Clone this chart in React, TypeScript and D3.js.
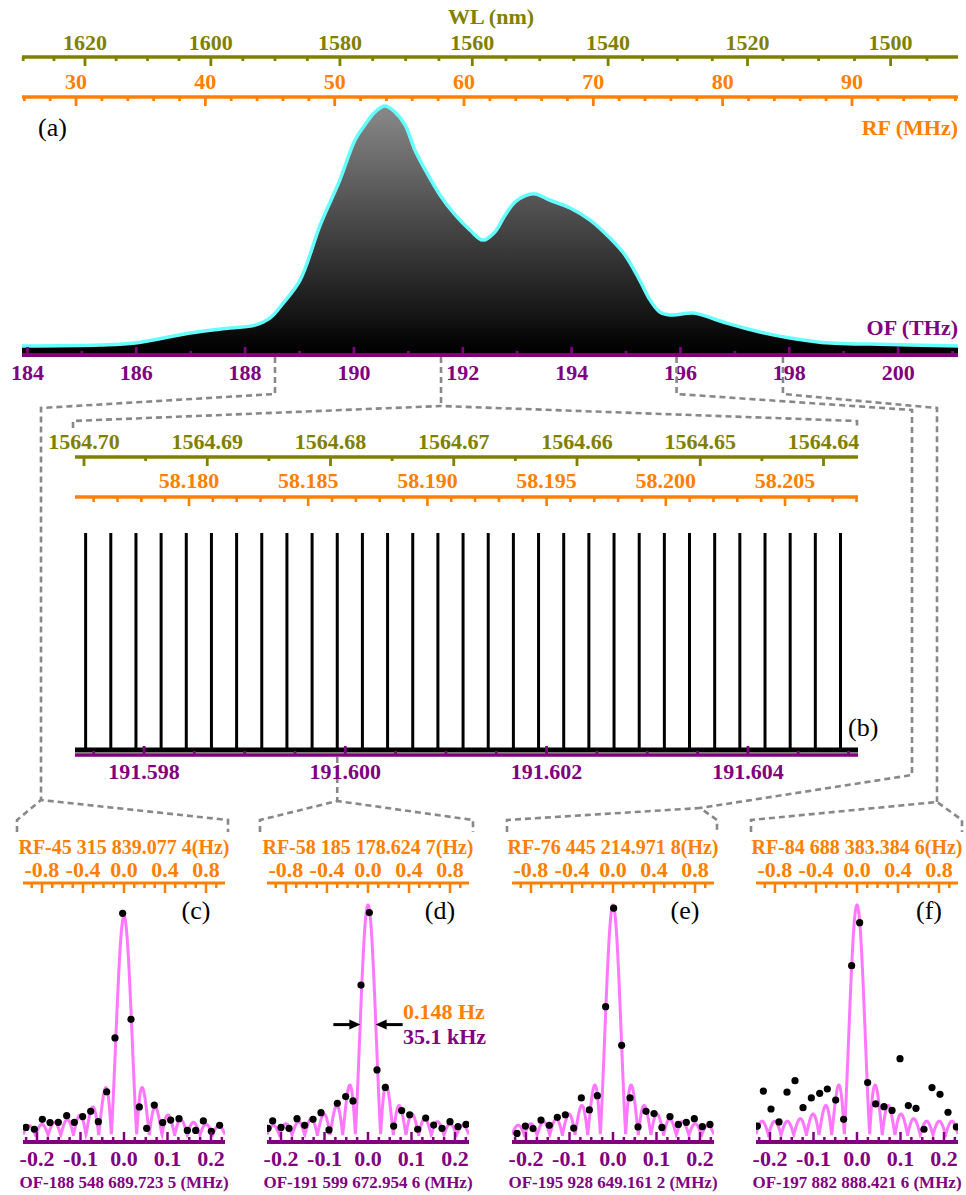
import React from 'react';
import * as d3 from 'd3';

const C_LIGHT = 299792.458;
const FONT = '"Liberation Serif","Times New Roman",serif';
const OLIVE = '#808000';
const ORANGE = '#ff8000';
const PURPLE = '#800080';
const PINK = '#ff77ff';
const CYAN = '#66ffff';
const GRAY = '#888888';

// ---------- Panel (a): broadband spectrum ----------
const spectrumOF = [183.90, 185.33, 185.98, 186.99, 187.72, 188.18, 188.46, 188.70, 189.01, 189.38, 189.74, 190.02, 190.20, 190.39, 190.57, 190.75, 190.94, 191.12, 191.31, 191.58, 191.86, 192.13, 192.37, 192.59, 192.78, 192.96, 193.14, 193.33, 193.60, 193.97, 194.34, 194.70, 194.98, 195.25, 195.44, 195.62, 195.81, 196.23, 196.45, 196.85, 197.46, 198.01, 198.75, 199.48, 201.10];
const spectrumLevel = [0.024, 0.028, 0.036, 0.077, 0.097, 0.109, 0.138, 0.198, 0.291, 0.514, 0.696, 0.858, 0.919, 0.972, 0.996, 0.972, 0.919, 0.818, 0.737, 0.636, 0.555, 0.494, 0.453, 0.486, 0.555, 0.607, 0.632, 0.640, 0.615, 0.583, 0.534, 0.462, 0.393, 0.291, 0.211, 0.162, 0.150, 0.158, 0.146, 0.117, 0.081, 0.057, 0.036, 0.032, 0.024];
const ofTicksA = [184, 186, 188, 190, 192, 194, 196, 198, 200];
const wlTicksA = [1620, 1600, 1580, 1560, 1540, 1520, 1500];
const rfTicksA = [30, 40, 50, 60, 70, 80, 90];

// ---------- Panel (b): resolved comb lines ----------
const combOF = [191.59742, 191.59767, 191.59792, 191.59817, 191.59842, 191.59867, 191.59892, 191.59917, 191.59942, 191.59967, 191.59992, 191.60017, 191.60042, 191.60067, 191.60092, 191.60117, 191.60142, 191.60167, 191.60192, 191.60217, 191.60242, 191.60267, 191.60292, 191.60317, 191.60342, 191.60367, 191.60392, 191.60417, 191.60442, 191.60467, 191.60492];
const wlTicksB = [1564.70, 1564.69, 1564.68, 1564.67, 1564.66, 1564.65, 1564.64];
const rfTicksB = [58.180, 58.185, 58.190, 58.195, 58.200, 58.205];
const ofTicksB = [191.598, 191.600, 191.602, 191.604];

// ---------- Panels (c)-(f): single comb lines ----------
const panelIds = ['(c)', '(d)', '(e)', '(f)'];
const panelRFTitle = ['RF-45 315 839.077 4(Hz)', 'RF-58 185 178.624 7(Hz)', 'RF-76 445 214.971 8(Hz)', 'RF-84 688 383.384 6(Hz)'];
const panelOFTitle = ['OF-188 548 689.723 5 (MHz)', 'OF-191 599 672.954 6 (MHz)', 'OF-195 928 649.161 2 (MHz)', 'OF-197 882 888.421 6 (MHz)'];
const panelOFTHz = [188.5487, 191.59992, 195.9286, 197.8829];
const rfTicksSmall = [-0.8, -0.4, 0.0, 0.4, 0.8];
const ofTicksSmall = [-0.2, -0.1, 0.0, 0.1, 0.2];

const cDetuning = [-0.2253, -0.2061, -0.1877, -0.1701, -0.1510, -0.1318, -0.1142, -0.0950, -0.0766, -0.0590, -0.0398, -0.0207, -0.0031, 0.0161, 0.0352, 0.0521, 0.0697, 0.0889, 0.1073, 0.1264, 0.1456, 0.1648, 0.1824, 0.2008, 0.2199];
const cLevel = [0.033, 0.025, 0.068, 0.054, 0.055, 0.084, 0.055, 0.080, 0.103, 0.058, 0.188, 0.422, 0.964, 0.503, 0.122, 0.029, 0.130, 0.054, 0.065, 0.071, 0.020, 0.020, 0.061, 0.016, 0.042];
const dDetuning = [-0.2299, -0.2192, -0.2000, -0.1816, -0.1632, -0.1456, -0.1264, -0.1080, -0.0897, -0.0705, -0.0513, -0.0345, -0.0161, 0.0031, 0.0207, 0.0398, 0.0590, 0.0774, 0.0958, 0.1142, 0.1326, 0.1510, 0.1701, 0.1885, 0.2069, 0.2253];
const dLevel = [0.029, 0.061, 0.033, 0.029, 0.071, 0.042, 0.068, 0.097, 0.022, 0.138, 0.167, 0.148, 0.652, 0.967, 0.283, 0.207, 0.039, 0.106, 0.088, 0.025, 0.074, 0.043, 0.029, 0.058, 0.036, 0.046];
const eDetuning = [-0.2207, -0.2015, -0.1839, -0.1655, -0.1464, -0.1280, -0.1096, -0.0904, -0.0728, -0.0544, -0.0360, -0.0169, 0.0015, 0.0199, 0.0391, 0.0575, 0.0759, 0.0943, 0.1125, 0.1310, 0.1502, 0.1686, 0.1870, 0.2054, 0.2230];
const eLevel = [0.007, 0.039, 0.028, 0.065, 0.042, 0.077, 0.088, 0.030, 0.161, 0.109, 0.171, 0.558, 0.986, 0.390, 0.161, 0.035, 0.103, 0.093, 0.033, 0.080, 0.046, 0.055, 0.071, 0.036, 0.046];
const fDetuning = [-0.2290, -0.2153, -0.1977, -0.1793, -0.1609, -0.1425, -0.1241, -0.1050, -0.0858, -0.0682, -0.0490, -0.0307, -0.0123, 0.0061, 0.0245, 0.0429, 0.0621, 0.0805, 0.0989, 0.1180, 0.1356, 0.1540, 0.1724, 0.1908, 0.2092, 0.2284];
const fLevel = [0.039, 0.191, 0.113, 0.057, 0.186, 0.236, 0.119, 0.161, 0.181, 0.200, 0.152, 0.068, 0.736, 0.923, 0.228, 0.135, 0.123, 0.107, 0.332, 0.128, 0.116, 0.025, 0.206, 0.177, 0.099, 0.035];
const panelDetuning = [cDetuning, dDetuning, eDetuning, fDetuning];
const panelLevel = [cLevel, dLevel, eLevel, fLevel];

// sinc fit parameters per panel
const fitPeak = [0.95, 1.0, 1.0, 1.0];
const fitZeroMHz = [0.0291, 0.0291, 0.0291, 0.0291];
const fitFloor = [0, 0, 0, 0.06];
const fwhmKHz = 35.1;

const panelCX = [124, 368, 613, 857];
const HALF = 101;

const xOF_A = d3.scaleLinear().domain([183.9, 201.1]).range([22, 958]);
const xRF_A = d3.scaleLinear().domain([25.82, 98.2]).range([22, 958]);
const yA = d3.scaleLinear().domain([0, 1]).range([352, 105]);

const xOF_B = d3.scaleLinear().domain([191.5973144, 191.6050939]).range([75, 858]);
const xRF_B = d3.scaleLinear().domain([58.175218, 58.208062]).range([75, 858]);
const yB = d3.scaleLinear().domain([0, 1]).range([750, 533]);

const ySmall = d3.scaleLinear().domain([0, 1]).range([1135, 905]);

function sincModel(f: number, i: number) {
  const u = f / fitZeroMHz[i];
  const s = Math.abs(u) < 1e-9 ? 1 : Math.abs(Math.sin(Math.PI * u) / (Math.PI * u));
  const fl = fitFloor[i] * Math.abs(Math.sin(Math.PI * u));
  return fitPeak[i] * Math.max(s, fl);
}

const bold = { fontFamily: FONT, fontWeight: 700 } as const;

function Panel({ i }: { i: number }) {
  const cx = panelCX[i];
  const xOF = d3.scaleLinear().domain([-0.2322, 0.2322]).range([cx - HALF, cx + HALF]);
  const xRF = d3.scaleLinear().domain([-0.985, 0.985]).range([cx - HALF, cx + HALF]);
  const samples = d3.range(-0.2322, 0.2323, 0.0004);
  const line = d3.line<number>().x((f) => xOF(f)).y((f) => ySmall(sincModel(f, i)));
  const rfMinor = d3.range(-0.9, 0.95, 0.1);
  const ofMinor = d3.range(-0.225, 0.23, 0.025);
  const clipId = `clip${i}`;
  const det = panelDetuning[i];
  const lev = panelLevel[i];
  return (
    <g>
      <clipPath id={clipId}>
        <rect x={cx - HALF} y={895} width={2 * HALF} height={245} />
      </clipPath>
      <text x={cx} y={854} textAnchor="middle" fill={ORANGE} fontSize={20} {...bold}>{panelRFTitle[i]}</text>
      {rfTicksSmall.map((t) => (
        <text key={t} x={xRF(t)} y={877} textAnchor="middle" fill={ORANGE} fontSize={22} {...bold}>{t.toFixed(1)}</text>
      ))}
      <line x1={cx - HALF} x2={cx + HALF} y1={883} y2={883} stroke={ORANGE} strokeWidth={3} />
      {rfMinor.map((t) => {
        const major = Math.abs(Math.round(t * 10) % 4) === 0;
        return <line key={t} x1={xRF(t)} x2={xRF(t)} y1={883} y2={major ? 893 : 888} stroke={ORANGE} strokeWidth={2.5} />;
      })}
      <text x={cx + 72} y={919} textAnchor="middle" fill="#000" fontSize={26} fontFamily={FONT}>{panelIds[i]}</text>
      <path d={line(samples) || ''} fill="none" stroke={PINK} strokeWidth={3} clipPath={`url(#${clipId})`} />
      <g clipPath={`url(#${clipId})`}>
        {det.map((f, k) => (
          <circle key={k} cx={xOF(f)} cy={ySmall(lev[k])} r={3.6} fill="#000" />
        ))}
      </g>
      <line x1={cx - HALF} x2={cx + HALF} y1={1142} y2={1142} stroke={PURPLE} strokeWidth={4} />
      {ofMinor.map((t) => {
        const major = Math.abs(Math.round(t * 1000) % 100) === 0;
        return <line key={t} x1={xOF(t)} x2={xOF(t)} y1={1142} y2={major ? 1132 : 1137} stroke={PURPLE} strokeWidth={2.5} />;
      })}
      {ofTicksSmall.map((t) => (
        <text key={t} x={xOF(t)} y={1166} textAnchor="middle" fill={PURPLE} fontSize={22} {...bold}>{t.toFixed(1)}</text>
      ))}
      <text x={cx} y={1188} textAnchor="middle" fill={PURPLE} fontSize={17} {...bold}>{panelOFTitle[i]}</text>
      {i === 1 && (() => {
        const half = fwhmKHz / 2000;
        const yArr = ySmall(0.48);
        const xl = xOF(-half);
        const xr = xOF(half);
        return (
          <g>
            <line x1={xl - 27} x2={xl - 9} y1={yArr} y2={yArr} stroke="#000" strokeWidth={3} />
            <path d={`M${xl},${yArr} L${xl - 11},${yArr - 5} L${xl - 11},${yArr + 5} Z`} fill="#000" />
            <line x1={xr + 27} x2={xr + 9} y1={yArr} y2={yArr} stroke="#000" strokeWidth={3} />
            <path d={`M${xr},${yArr} L${xr + 11},${yArr - 5} L${xr + 11},${yArr + 5} Z`} fill="#000" />
            <text x={403} y={1019} fill={ORANGE} fontSize={22} {...bold}>0.148 Hz</text>
            <text x={403} y={1044} fill={PURPLE} fontSize={22} {...bold}>{`${fwhmKHz} kHz`}</text>
          </g>
        );
      })()}
    </g>
  );
}

export default function App() {
  const area = d3.area<number>()
    .x((_, k) => xOF_A(spectrumOF[k]))
    .y0(yA(-0.012))
    .y1((v) => yA(v))
    .curve(d3.curveCatmullRom.alpha(0.5));
  const outline = d3.line<number>()
    .x((_, k) => xOF_A(spectrumOF[k]))
    .y((v) => yA(v))
    .curve(d3.curveCatmullRom.alpha(0.5));

  const wlMinorA = d3.range(1495, 1631, 5);
  const rfMinorA = d3.range(26, 99, 2);
  const ofMinorA = d3.range(184, 202, 1);
  const wlMinorB = [1564.695, 1564.685, 1564.675, 1564.665, 1564.655, 1564.645];
  const rfMinorB = d3.range(58176, 58209, 1).map((v) => v / 1000);
  const ofMinorB = d3.range(1915975, 1916051, 5).map((v) => v / 10000);

  const dash = { fill: 'none', stroke: GRAY, strokeWidth: 2.6, strokeDasharray: '6 4' } as const;
  const xc = xOF_A(panelOFTHz[0]);
  const xb = xOF_A(191.6);
  const xe = xOF_A(panelOFTHz[2]);
  const xf = xOF_A(panelOFTHz[3]);
  const xd = xOF_B(panelOFTHz[1]);

  return (
    <svg width={966} height={1195} viewBox="0 0 966 1195" style={{ position: 'absolute', left: 0, top: 0, background: '#fff' }}>
      <defs>
        <linearGradient id="gA" x1={0} y1={yA(1)} x2={0} y2={yA(0)} gradientUnits="userSpaceOnUse">
          <stop offset="0" stopColor="#8a8a8a" />
          <stop offset="1" stopColor="#000" />
        </linearGradient>
      </defs>
      <rect x={0} y={0} width={966} height={1195} fill="#fff" />

      {/* ===== Panel (a) ===== */}
      <text x={491} y={24} textAnchor="middle" fill={OLIVE} fontSize={22} {...bold}>WL (nm)</text>
      {wlTicksA.map((w) => (
        <text key={w} x={xOF_A(C_LIGHT / w)} y={50} textAnchor="middle" fill={OLIVE} fontSize={22} {...bold}>{w}</text>
      ))}
      <line x1={22} x2={958} y1={57} y2={57} stroke={OLIVE} strokeWidth={3.5} />
      {wlMinorA.map((w) => {
        const x = xOF_A(C_LIGHT / w);
        if (x < 21 || x > 959) return null;
        const major = w % 20 === 0;
        return <line key={w} x1={x} x2={x} y1={57} y2={major ? 66 : 61} stroke={OLIVE} strokeWidth={2.8} />;
      })}
      {rfTicksA.map((r) => (
        <text key={r} x={xRF_A(r)} y={89} textAnchor="middle" fill={ORANGE} fontSize={22} {...bold}>{r}</text>
      ))}
      <line x1={22} x2={958} y1={97} y2={97} stroke={ORANGE} strokeWidth={3.5} />
      {rfMinorA.map((r) => (
        <line key={r} x1={xRF_A(r)} x2={xRF_A(r)} y1={97} y2={r % 10 === 0 ? 106 : 101} stroke={ORANGE} strokeWidth={2.8} />
      ))}

      <path d={area(spectrumLevel) || ''} fill="url(#gA)" />
      <path d={outline(spectrumLevel) || ''} fill="none" stroke={CYAN} strokeWidth={3.5} />

      <text x={38} y={136} fill="#000" fontSize={26} fontFamily={FONT}>(a)</text>
      <text x={958} y={135} textAnchor="end" fill={ORANGE} fontSize={22} {...bold}>RF (MHz)</text>
      <text x={958} y={335} textAnchor="end" fill={PURPLE} fontSize={22} {...bold}>OF (THz)</text>

      <line x1={22} x2={958} y1={355} y2={355} stroke={PURPLE} strokeWidth={4} />
      {ofMinorA.map((f) => (
        <line key={f} x1={xOF_A(f)} x2={xOF_A(f)} y1={355} y2={f % 2 === 0 ? 347 : 351} stroke={PURPLE} strokeWidth={2.8} />
      ))}
      {ofTicksA.map((f) => (
        <text key={f} x={xOF_A(f)} y={380} textAnchor="middle" fill={PURPLE} fontSize={22} {...bold}>{f}</text>
      ))}

      {/* ===== connectors ===== */}
      <path d={`M${xc},357 V394 L41,408 V800`} {...dash} />
      <path d={`M17,832 V820 L41,800 L228,820 V832`} {...dash} />
      <path d={`M${xb},357 V406`} {...dash} />
      <path d={`M73,428 V421 L${xb},406 L857,421 V428`} {...dash} />
      <path d={`M${xe},357 V394 L912,410 V775 L700,808`} {...dash} />
      <path d={`M507,832 V820 L700,808 L717,820 V832`} {...dash} />
      <path d={`M${xf},357 V394 L937,408 V802`} {...dash} />
      <path d={`M751,832 V820 L937,802 L962,820 V832`} {...dash} />
      <path d={`M${xd},757 V801`} {...dash} />
      <path d={`M260,832 V820 L${xd},801 L473,820 V832`} {...dash} />

      {/* ===== Panel (b) ===== */}
      {wlTicksB.map((w) => (
        <text key={w} x={xOF_B(C_LIGHT / w)} y={449} textAnchor="middle" fill={OLIVE} fontSize={22} {...bold}>{w.toFixed(2)}</text>
      ))}
      <line x1={75} x2={858} y1={457} y2={457} stroke={OLIVE} strokeWidth={3.5} />
      {wlTicksB.map((w) => {
        const x = xOF_B(C_LIGHT / w);
        return <line key={w} x1={x} x2={x} y1={457} y2={466} stroke={OLIVE} strokeWidth={2.8} />;
      })}
      {wlMinorB.map((w) => {
        const x = xOF_B(C_LIGHT / w);
        return <line key={w} x1={x} x2={x} y1={457} y2={461} stroke={OLIVE} strokeWidth={2.8} />;
      })}
      {rfTicksB.map((r) => (
        <text key={r} x={xRF_B(r)} y={488} textAnchor="middle" fill={ORANGE} fontSize={22} {...bold}>{r.toFixed(3)}</text>
      ))}
      <line x1={75} x2={858} y1={497} y2={497} stroke={ORANGE} strokeWidth={3.5} />
      {rfMinorB.map((r) => (
        <line key={r} x1={xRF_B(r)} x2={xRF_B(r)} y1={497} y2={Math.round(r * 1000) % 5 === 0 ? 506 : 502} stroke={ORANGE} strokeWidth={2.6} />
      ))}

      {combOF.map((f) => (
        <line key={f} x1={xOF_B(f)} x2={xOF_B(f)} y1={yB(0)} y2={yB(1)} stroke="#000" strokeWidth={3} />
      ))}
      <line x1={75} x2={858} y1={750} y2={750} stroke="#000" strokeWidth={5} />
      <line x1={75} x2={858} y1={755} y2={755} stroke={PURPLE} strokeWidth={3.5} />
      {ofMinorB.map((f) => {
        const major = Math.round(f * 10000) % 20 === 0;
        return <line key={f} x1={xOF_B(f)} x2={xOF_B(f)} y1={755} y2={major ? 746 : 751} stroke={PURPLE} strokeWidth={2.8} />;
      })}
      {ofTicksB.map((f) => (
        <text key={f} x={xOF_B(f)} y={779} textAnchor="middle" fill={PURPLE} fontSize={22} {...bold}>{f.toFixed(3)}</text>
      ))}
      <text x={848} y={736} fill="#000" fontSize={26} fontFamily={FONT}>(b)</text>

      {/* ===== Panels (c)-(f) ===== */}
      {panelIds.map((_, i) => <Panel key={i} i={i} />)}
    </svg>
  );
}
